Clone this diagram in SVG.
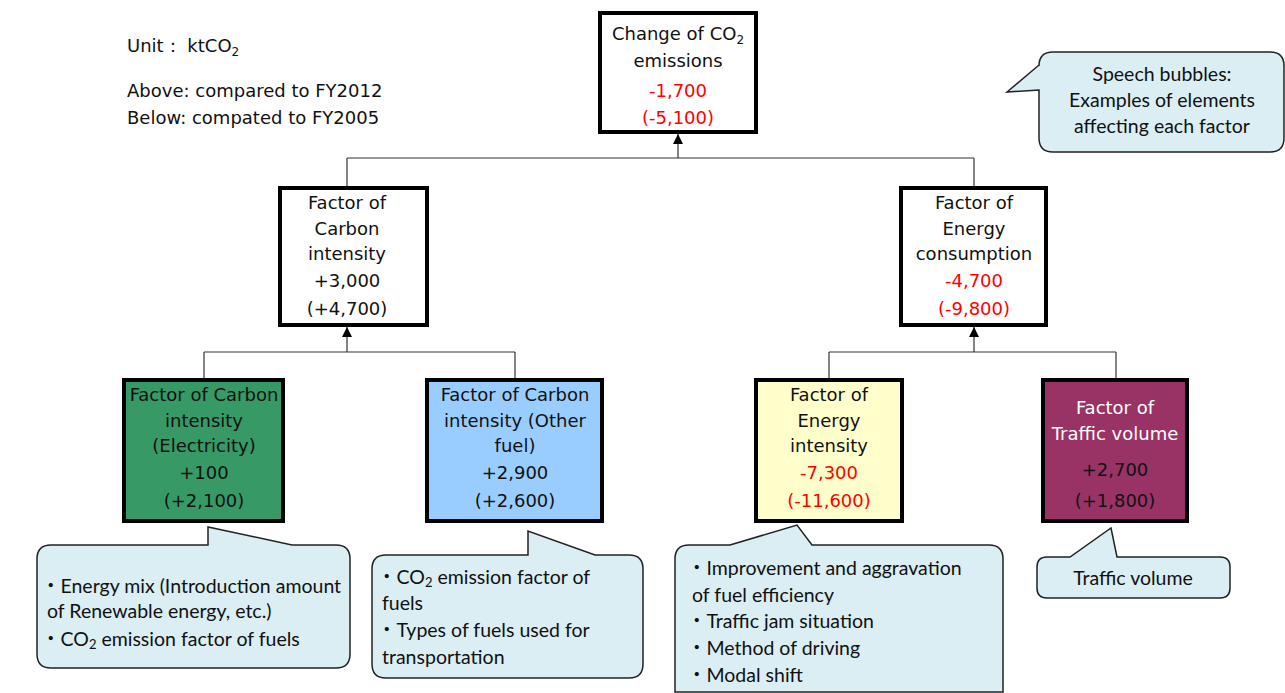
<svg xmlns="http://www.w3.org/2000/svg" width="1285" height="693" viewBox="0 0 1285 693">
<defs>
<style>
.box{stroke:#000;stroke-width:4}
.t{font-family:"DejaVu Sans",sans-serif;font-size:18px;fill:#111;text-anchor:middle}
.r{fill:#ff0000}
.w{fill:#ffffff}
.l{text-anchor:start}
.b{font-family:Lato,"Noto Sans CJK JP",sans-serif;font-size:19.5px;fill:#111}
.bub{fill:#daeef3;stroke:#222;stroke-width:1.5}
.c{stroke:#333;stroke-width:1.2;fill:none}
</style>
<marker id="ah" viewBox="0 0 10 10" refX="10" refY="5" markerWidth="10" markerHeight="10" markerUnits="userSpaceOnUse" orient="auto">
<path d="M0,0 L10,5 L0,10 z" fill="#000"/>
</marker>
</defs>
<rect width="1285" height="693" fill="#fff"/>

<g id="legend">
<text class="t l" x="127" y="52">Unit： ktCO<tspan font-size="12" dy="4">2</tspan></text>
<text class="t l" x="127" y="97">Above: compared to FY2012</text>
<text class="t l" x="127" y="124">Below: compated to FY2005</text>
</g>

<g id="connectors">
<line class="c" x1="347" y1="158" x2="974" y2="158"/>
<line class="c" x1="678" y1="158" x2="678" y2="134" marker-end="url(#ah)"/>
<line class="c" x1="347" y1="158" x2="347" y2="187"/>
<line class="c" x1="974" y1="158" x2="974" y2="187"/>
<line class="c" x1="204" y1="352" x2="515" y2="352"/>
<line class="c" x1="347" y1="352" x2="347" y2="327" marker-end="url(#ah)"/>
<line class="c" x1="204" y1="352" x2="204" y2="379"/>
<line class="c" x1="515" y1="352" x2="515" y2="379"/>
<line class="c" x1="829" y1="352" x2="1116" y2="352"/>
<line class="c" x1="974" y1="352" x2="974" y2="327" marker-end="url(#ah)"/>
<line class="c" x1="829" y1="352" x2="829" y2="379"/>
<line class="c" x1="1116" y1="352" x2="1116" y2="379"/>
</g>

<g id="n-total">
<rect class="box" x="600" y="13" width="156" height="119" fill="#fff"/>
<text class="t" x="678" y="40">Change of CO<tspan font-size="12" dy="4">2</tspan></text>
<text class="t" x="678" y="67">emissions</text>
<text class="t r" x="678" y="97">-1,700</text>
<text class="t r" x="678" y="124">(-5,100)</text>
</g>

<g id="n-carbon">
<rect class="box" x="280" y="188" width="147" height="137" fill="#fff"/>
<text class="t" x="347" y="209">Factor of</text>
<text class="t" x="347" y="235">Carbon</text>
<text class="t" x="347" y="260">intensity</text>
<text class="t" x="347" y="287">+3,000</text>
<text class="t" x="347" y="315">(+4,700)</text>
</g>

<g id="n-energy">
<rect class="box" x="901" y="188" width="145" height="137" fill="#fff"/>
<text class="t" x="974" y="209">Factor of</text>
<text class="t" x="974" y="235">Energy</text>
<text class="t" x="974" y="260">consumption</text>
<text class="t r" x="974" y="287">-4,700</text>
<text class="t r" x="974" y="315">(-9,800)</text>
</g>

<g id="n-elec">
<rect class="box" x="124" y="380" width="159" height="141" fill="#379966"/>
<text class="t" x="204" y="401">Factor of Carbon</text>
<text class="t" x="204" y="427">intensity</text>
<text class="t" x="204" y="452">(Electricity)</text>
<text class="t" x="204" y="479">+100</text>
<text class="t" x="204" y="507">(+2,100)</text>
</g>

<g id="n-fuel">
<rect class="box" x="427" y="380" width="175" height="141" fill="#99ccff"/>
<text class="t" x="515" y="401">Factor of Carbon</text>
<text class="t" x="515" y="427">intensity (Other</text>
<text class="t" x="515" y="452">fuel)</text>
<text class="t" x="515" y="479">+2,900</text>
<text class="t" x="515" y="507">(+2,600)</text>
</g>

<g id="n-eint">
<rect class="box" x="756" y="380" width="146" height="141" fill="#ffffcc"/>
<text class="t" x="829" y="401">Factor of</text>
<text class="t" x="829" y="427">Energy</text>
<text class="t" x="829" y="452">intensity</text>
<text class="t r" x="829" y="479">-7,300</text>
<text class="t r" x="829" y="507">(-11,600)</text>
</g>

<g id="n-traffic">
<rect class="box" x="1043" y="380" width="144" height="141" fill="#993366"/>
<text class="t w" x="1115" y="414">Factor of</text>
<text class="t w" x="1115" y="440">Traffic volume</text>
<text class="t" x="1115" y="476">+2,700</text>
<text class="t" x="1115" y="507">(+1,800)</text>
</g>

<g id="bubble-legend">
<path class="bub" d="M1053,52 H1270 Q1284,52 1284,66 V138 Q1284,152 1270,152 H1053 Q1039,152 1039,138 V90 L1007,92 L1039,65 V66 Q1039,52 1053,52 Z"/>
<text class="b" x="1162" y="81" text-anchor="middle">Speech bubbles:</text>
<text class="b" x="1162" y="107" text-anchor="middle">Examples of elements</text>
<text class="b" x="1162" y="133" text-anchor="middle">affecting each factor</text>
</g>

<g id="bubble-elec">
<path class="bub" d="M51,545 H208 V527 L292,545 H336 Q350,545 350,559 V654 Q350,668 336,668 H51 Q37,668 37,654 V559 Q37,545 51,545 Z"/>
<text class="b" x="41" y="593">・Energy mix (Introduction amount</text>
<text class="b" x="47" y="618">of Renewable energy, etc.)</text>
<text class="b" x="41" y="646">・CO<tspan font-size="13" dy="3">2</tspan><tspan dy="-3"> emission factor of fuels</tspan></text>
</g>

<g id="bubble-fuel">
<path class="bub" d="M386,555 H528 V531 L595,555 H629 Q643,555 643,569 V664 Q643,678 629,678 H386 Q372,678 372,664 V569 Q372,555 386,555 Z"/>
<text class="b" x="377" y="584">・CO<tspan font-size="13" dy="3">2</tspan><tspan dy="-3"> emission factor of</tspan></text>
<text class="b" x="382" y="610">fuels</text>
<text class="b" x="377" y="637">・Types of fuels used for</text>
<text class="b" x="382" y="664">transportation</text>
</g>

<g id="bubble-eint">
<path class="bub" d="M689,545 H730 L797,525 L812,545 H989 Q1003,545 1003,559 V692 H675 V559 Q675,545 689,545 Z"/>
<text class="b" x="687" y="575">・Improvement and aggravation</text>
<text class="b" x="692" y="602">of fuel efficiency</text>
<text class="b" x="687" y="628">・Traffic jam situation</text>
<text class="b" x="687" y="655">・Method of driving</text>
<text class="b" x="687" y="682">・Modal shift</text>
</g>

<g id="bubble-traffic">
<path class="bub" d="M1047,557 H1070 L1111,528 L1117,557 H1220 Q1230,557 1230,567 V588 Q1230,598 1220,598 H1047 Q1037,598 1037,588 V567 Q1037,557 1047,557 Z"/>
<text class="b" x="1133" y="585" text-anchor="middle">Traffic volume</text>
</g>
</svg>
